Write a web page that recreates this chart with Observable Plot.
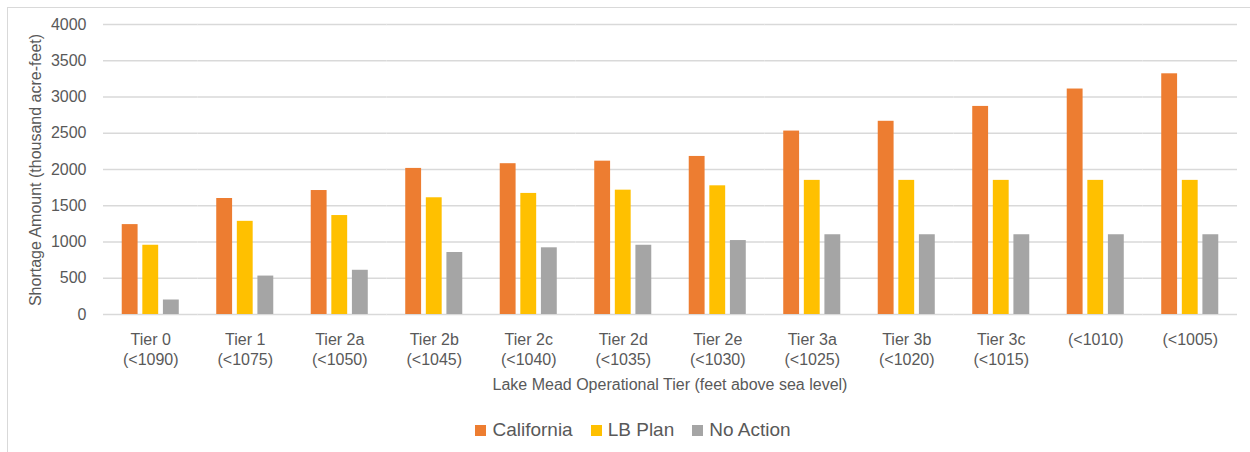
<!DOCTYPE html>
<html>
<head>
<meta charset="utf-8">
<script src="https://cdn.jsdelivr.net/npm/d3@7"></script>
<script src="https://cdn.jsdelivr.net/npm/@observablehq/plot@0.6"></script>
<style>
  html, body { margin: 0; padding: 0; background: #fff; width: 1250px; height: 452px; overflow: hidden; }
  body { font-family: "Liberation Sans", Arial, sans-serif; color: #595959; position: relative; }
  #frame { position: absolute; left: 7px; top: 7px; width: 1400px; height: 600px; border-left: 1px solid #d9d9d9; border-top: 1px solid #d9d9d9; }
  #chart { position: absolute; left: 0; top: 0; }
  .ytitle { position: absolute; left: 36px; top: 170px; transform: translate(-50%, -50%) rotate(-90deg); white-space: nowrap; font-size: 16px; }
  .xtitle { position: absolute; left: 670px; top: 385px; transform: translate(-50%, -50%); white-space: nowrap; font-size: 16px; }
  #legend { position: absolute; left: 0; width: 1266px; top: 430px; transform: translateY(-50%); display: flex; justify-content: center; gap: 18px; font-size: 19px; }
  .item { display: flex; align-items: center; gap: 6px; }
  .sw { width: 11px; height: 11px; display: inline-block; }
</style>
</head>
<body>
<div id="frame"></div>
<div id="chart"></div>
<div class="ytitle">Shortage Amount (thousand acre-feet)</div>
<div class="xtitle">Lake Mead Operational Tier (feet above sea level)</div>
<div id="legend"></div>
<script>
const tiers = ["Tier 0\n(<1090)", "Tier 1\n(<1075)", "Tier 2a\n(<1050)", "Tier 2b\n(<1045)", "Tier 2c\n(<1040)", "Tier 2d\n(<1035)", "Tier 2e\n(<1030)", "Tier 3a\n(<1025)", "Tier 3b\n(<1020)", "Tier 3c\n(<1015)", "(<1010)", "(<1005)"];
const series = ["California", "LB Plan", "No Action"];
const california = [1240, 1600, 1710, 2015, 2080, 2115, 2180, 2530, 2665, 2870, 3110, 3320];
const lbPlan = [955, 1285, 1365, 1610, 1670, 1715, 1775, 1850, 1850, 1850, 1850, 1850];
const noAction = [200, 530, 610, 855, 920, 955, 1020, 1100, 1100, 1100, 1100, 1100];
const yTicks = [0, 500, 1000, 1500, 2000, 2500, 3000, 3500, 4000];
const colors = ["#ED7D31", "#FFC000", "#A5A5A5"];

const values = [california, lbPlan, noAction];
const data = [];
tiers.forEach((t, i) => series.forEach((s, j) => data.push({tier: t, series: s, value: values[j][i]})));

const chart = Plot.plot({
  width: 1250,
  height: 400,
  marginLeft: 103,
  marginRight: 13,
  marginTop: 24,
  marginBottom: 86,
  style: {fontFamily: '"Liberation Sans", Arial, sans-serif', fontSize: "16px", color: "#595959", background: "transparent", overflow: "visible"},
  fx: {domain: tiers, padding: 0, round: false, axis: null},
  x: {domain: series, axis: null, round: false, paddingInner: 0.23, paddingOuter: 0.91},
  y: {domain: [0, 4000], ticks: yTicks, tickSize: 0, tickPadding: 17, label: null, tickFormat: d => String(d)},
  color: {domain: series, range: colors},
  marks: [
    Plot.ruleY(yTicks, {stroke: "#d9d9d9", strokeWidth: 1.3}),
    Plot.barY(data, {fx: "tier", x: "series", y: "value", fill: "series"}),
    Plot.text(tiers, {fx: d => d, text: d => d, frameAnchor: "bottom", lineAnchor: "top", dy: 17, lineHeight: 1.22, fill: "#595959", fontSize: 16})
  ]
});
document.getElementById("chart").appendChild(chart);

const legend = document.getElementById("legend");
series.forEach((s, i) => {
  const it = document.createElement("div");
  it.className = "item";
  const sw = document.createElement("span");
  sw.className = "sw";
  sw.style.background = colors[i];
  const tx = document.createElement("span");
  tx.textContent = s;
  it.appendChild(sw);
  it.appendChild(tx);
  legend.appendChild(it);
});
</script>
</body>
</html>
